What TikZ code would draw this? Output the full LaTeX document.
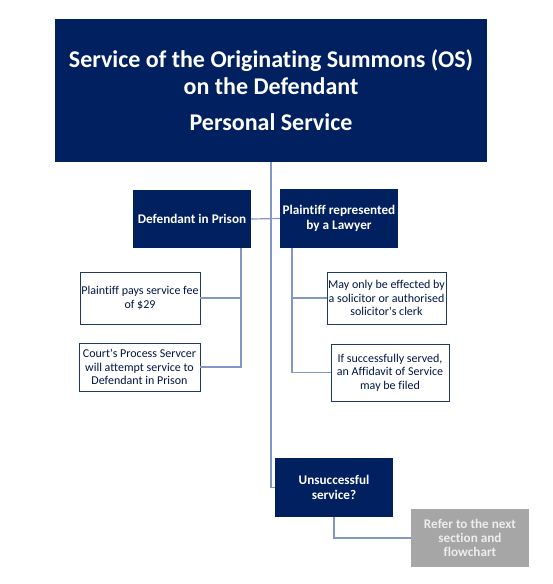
\documentclass[tikz,border=0pt]{standalone}
\usepackage{fontspec}
\setmainfont{Carlito}[Ligatures=CommonOff]
\definecolor{navy}{HTML}{002060}
\definecolor{lnk}{HTML}{8497C4}
\definecolor{edge}{HTML}{1F3864}
\definecolor{greybox}{HTML}{A6A6A6}
\definecolor{greytxt}{HTML}{EDEDED}
\tikzset{
  darkbox/.style={fill=navy,text=white,font=\bfseries\fontsize{13.2}{15}\selectfont,align=center,inner sep=1pt,minimum width=118pt,minimum height=58pt},
  whitebox/.style={draw=edge,line width=0.8pt,fill=white,text=navy!70!black,font=\fontsize{12}{13.5}\selectfont,align=center,inner sep=1pt},
  greyboxst/.style={fill=greybox,text=greytxt,font=\bfseries\fontsize{13.2}{14}\selectfont,align=center,inner sep=1pt,minimum width=118pt,minimum height=58pt},
  link/.style={draw=lnk,line width=1.2pt}
}
\begin{document}
\begin{tikzpicture}[x=1pt,y=-1pt]
\useasboundingbox (0,0) rectangle (552,584);
\node[fill=navy,text=white,font=\bfseries\fontsize{24}{27}\selectfont,align=center,minimum width=432pt,minimum height=143pt,inner sep=0pt] (top) at (271,90.5) {Service of the Originating Summons (OS)\\on the Defendant\\[9pt]Personal Service};
\node[darkbox] (def) at (192,219) {Defendant in Prison};
\node[darkbox,minimum height=59pt] (pla) at (339,218.5) {Plaintiff represented\\by a Lawyer};
\node[whitebox,minimum width=120pt,minimum height=52pt] (fee) at (140,298) {Plaintiff pays service fee\\of \$29};
\node[whitebox,minimum width=121pt,minimum height=48pt] (court) at (139.5,367) {Court\textquotesingle s Process Servcer\\will attempt service to\\Defendant in Prison};
\node[whitebox,minimum width=119pt,minimum height=52pt] (may) at (386.5,298) {May only be effected by\\a solicitor or authorised\\solicitor\textquotesingle s clerk};
\node[whitebox,minimum width=118pt,minimum height=57pt] (ifs) at (390,372.5) {If successfully served,\\an Affidavit of Service\\may be filed};
\node[darkbox,minimum height=59pt] (uns) at (334,487.5) {Unsuccessful\\service?};
\node[greyboxst] (ref) at (470,538) {Refer to the next\\section and\\flowchart};
% connectors
\draw[link] (top.south) -- (top.south |- uns.west) -- (uns.west);
\draw[link] (def.east) -- (pla.west);
\draw[link] ([xshift=49pt]def.south) -- ([xshift=49pt]def.south |- court.east) -- (court.east);
\draw[link] ([xshift=49pt]def.south |- fee.east) -- (fee.east);
\draw[link] ([xshift=-47pt]pla.south) -- ([xshift=-47pt]pla.south |- ifs.west) -- (ifs.west);
\draw[link] ([xshift=-47pt]pla.south |- may.west) -- (may.west);
\draw[link] (uns.south) -- (uns.south |- ref.west) -- (ref.west);
\end{tikzpicture}
\end{document}
